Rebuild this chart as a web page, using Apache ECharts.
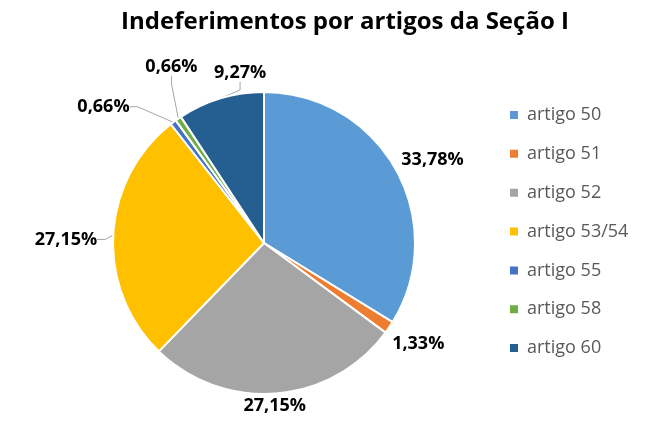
<!DOCTYPE html>
<html>
<head>
<meta charset="utf-8">
<script src="https://cdn.jsdelivr.net/npm/echarts@6/dist/echarts.min.js"></script>
<style>html,body{margin:0;padding:0;background:#fff;}#c{width:664px;height:428px;}</style>
</head>
<body>
<div id="c"></div>
<script>
const titleText = 'Indeferimentos por artigos da Seção I';
const categories = ['artigo 50', 'artigo 51', 'artigo 52', 'artigo 53/54', 'artigo 55', 'artigo 58', 'artigo 60'];
const values = [33.78, 1.33, 27.15, 27.15, 0.66, 0.66, 9.27];
const colors = ['#5B9BD5', '#ED7D31', '#A5A5A5', '#FFC000', '#4472C4', '#70AD47', '#255E91'];
const showLines = [false, false, false, true, true, true, true];

const font = '"Open Sans", "Liberation Sans", sans-serif';
// manual label nudges (Excel-style label placement), relative to ECharts' default outside position
const labelNudge = [[-18, -4], [-20, 10], [-47, 0], [4, 5], [-9, -22], [36, -42], [62, -14]];

const chart = echarts.init(document.getElementById('c'), null, {renderer: 'canvas'});
chart.setOption({
  animation: false,
  title: {
    text: titleText,
    left: 340, top: 5,
    textAlign: 'center',
    textStyle: {fontFamily: font, fontSize: 24, fontWeight: 'bold', color: '#000'}
  },
  legend: {
    orient: 'vertical',
    left: 508, top: 106, padding: 0,
    itemWidth: 10, itemHeight: 10, itemGap: 20.85,
    icon: 'rect',
    textStyle: {fontFamily: font, fontSize: 18, color: '#595959', padding: [0, 0, 0, 3]},
    data: categories
  },
  series: [{
    type: 'pie',
    center: [264, 243],
    radius: 151,
    startAngle: 90,
    clockwise: true,
    avoidLabelOverlap: true,
    itemStyle: {borderColor: '#fff', borderWidth: 2},
    label: {
      show: true,
      position: 'outside',
      fontFamily: font, fontSize: 18, fontWeight: 'bold', color: '#000',
      formatter: p => p.value.toFixed(2).replace('.', ',') + '%'
    },
    labelLine: {show: true, length: 12, length2: 8, lineStyle: {color: '#A6A6A6', width: 1}},
    labelLayout: function (p) {
      const n = labelNudge[p.dataIndex];
      const r = p.labelRect;
      return {
        x: r.x + r.width / 2 + n[0],
        y: r.y + r.height / 2 + n[1],
        align: 'center',
        verticalAlign: 'middle'
      };
    },
    data: categories.map((c, i) => ({
      name: c, value: values[i],
      itemStyle: {color: colors[i]},
      labelLine: {show: showLines[i]}
    }))
  }]
});
</script>
</body>
</html>
